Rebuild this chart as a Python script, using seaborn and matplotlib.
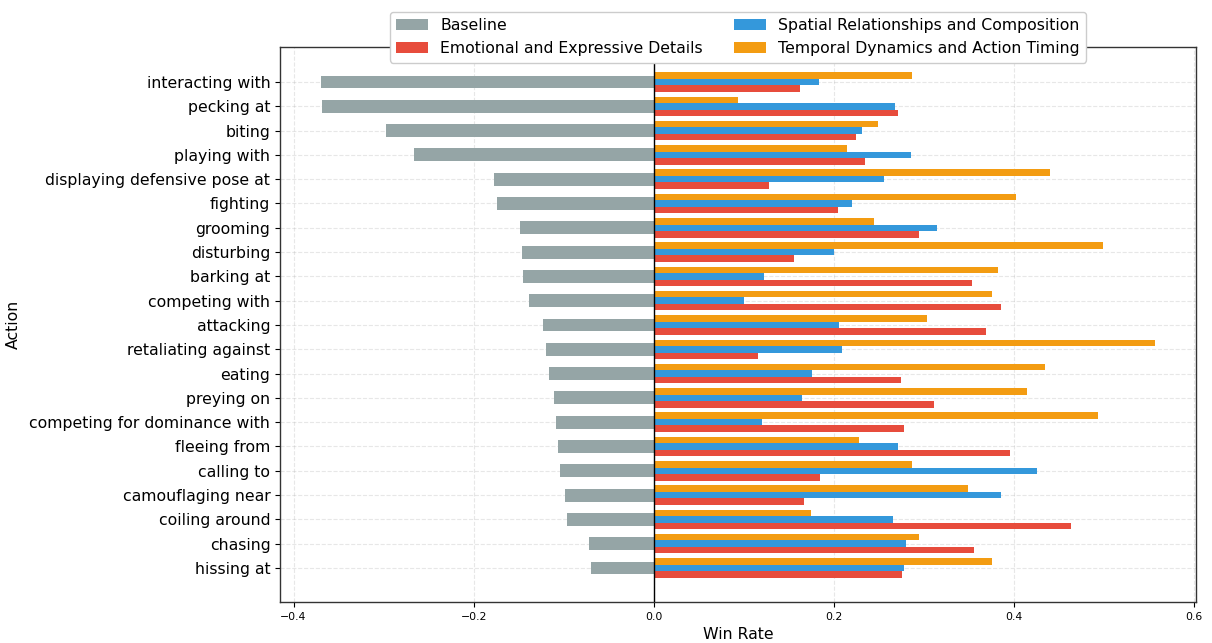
import matplotlib
matplotlib.use("Agg")
import matplotlib.pyplot as plt
from matplotlib.patches import Patch
import seaborn as sns
import pandas as pd

actions = [
    "interacting with", "pecking at", "biting", "playing with",
    "displaying defensive pose at", "fighting", "grooming", "disturbing",
    "barking at", "competing with", "attacking", "retaliating against",
    "eating", "preying on", "competing for dominance with", "fleeing from",
    "calling to", "camouflaging near", "coiling around", "chasing", "hissing at",
]

baseline = [-0.370, -0.368, -0.297, -0.266, -0.177, -0.174, -0.148, -0.146,
            -0.145, -0.139, -0.123, -0.120, -0.116, -0.111, -0.109, -0.106,
            -0.104, -0.099, -0.096, -0.072, -0.070]
emotional = [0.162, 0.271, 0.224, 0.235, 0.128, 0.205, 0.295, 0.156,
             0.353, 0.386, 0.369, 0.116, 0.275, 0.311, 0.278, 0.395,
             0.185, 0.167, 0.463, 0.355, 0.276]
spatial = [0.183, 0.268, 0.231, 0.286, 0.256, 0.220, 0.314, 0.200,
           0.122, 0.100, 0.206, 0.209, 0.176, 0.165, 0.120, 0.271,
           0.425, 0.385, 0.266, 0.280, 0.278]
temporal = [0.287, 0.093, 0.249, 0.214, 0.440, 0.402, 0.244, 0.499,
            0.382, 0.375, 0.303, 0.556, 0.434, 0.414, 0.493, 0.228,
            0.287, 0.349, 0.175, 0.294, 0.376]

series_names = ["Baseline", "Emotional and Expressive Details",
                "Spatial Relationships and Composition",
                "Temporal Dynamics and Action Timing"]
colors = {"Baseline": "#95a5a6",
          "Emotional and Expressive Details": "#e74c3c",
          "Spatial Relationships and Composition": "#3498db",
          "Temporal Dynamics and Action Timing": "#f39c12"}

rows = []
for name, vals in [(series_names[3], temporal), (series_names[2], spatial),
                   (series_names[1], emotional)]:
    for a, v in zip(actions, vals):
        rows.append({"Action": a, "Win Rate": v, "Series": name})
df = pd.DataFrame(rows)
df_base = pd.DataFrame({"Action": actions, "Win Rate": baseline})

fig = plt.figure(figsize=(12.12, 6.43), dpi=100)
ax = fig.add_axes([280 / 1212, 1 - 602 / 643, (1196 - 280) / 1212, (602 - 47) / 643])

sns.barplot(data=df_base, x="Win Rate", y="Action", order=actions,
            color=colors["Baseline"], width=0.53, orient="h",
            errorbar=None, saturation=1, ax=ax)
hue_order = [series_names[3], series_names[2], series_names[1]]
sns.barplot(data=df, x="Win Rate", y="Action", order=actions, hue="Series",
            hue_order=hue_order, palette=colors, width=0.8, dodge=True,
            orient="h", errorbar=None, saturation=1, ax=ax, legend=False)

ax.axvline(0, color="black", linewidth=1.0, zorder=3)
ax.set_axisbelow(True)
ax.grid(True, linestyle="--", alpha=0.3)
ax.set_xlim(-0.415, 0.602)
ax.set_ylim(21.4, -1.44)
ax.set_xticks([-0.4, -0.2, 0.0, 0.2, 0.4, 0.6])
ax.tick_params(axis="y", labelsize=11.3)
ax.tick_params(axis="x", labelsize=7.8)
ax.set_xlabel("Win Rate", fontsize=11.3)
ax.set_ylabel("Action", fontsize=11.3, labelpad=6)
for sp in ax.spines.values():
    sp.set_color("#333333")
    sp.set_linewidth(1.0)

handles = [Patch(facecolor=colors[n], label=n) for n in series_names]
ax.legend(handles=handles, ncol=2, loc="upper center",
          bbox_to_anchor=(0.5, 1.077), fontsize=11.3, framealpha=1.0)

fig.savefig("out.png", dpi=100)
